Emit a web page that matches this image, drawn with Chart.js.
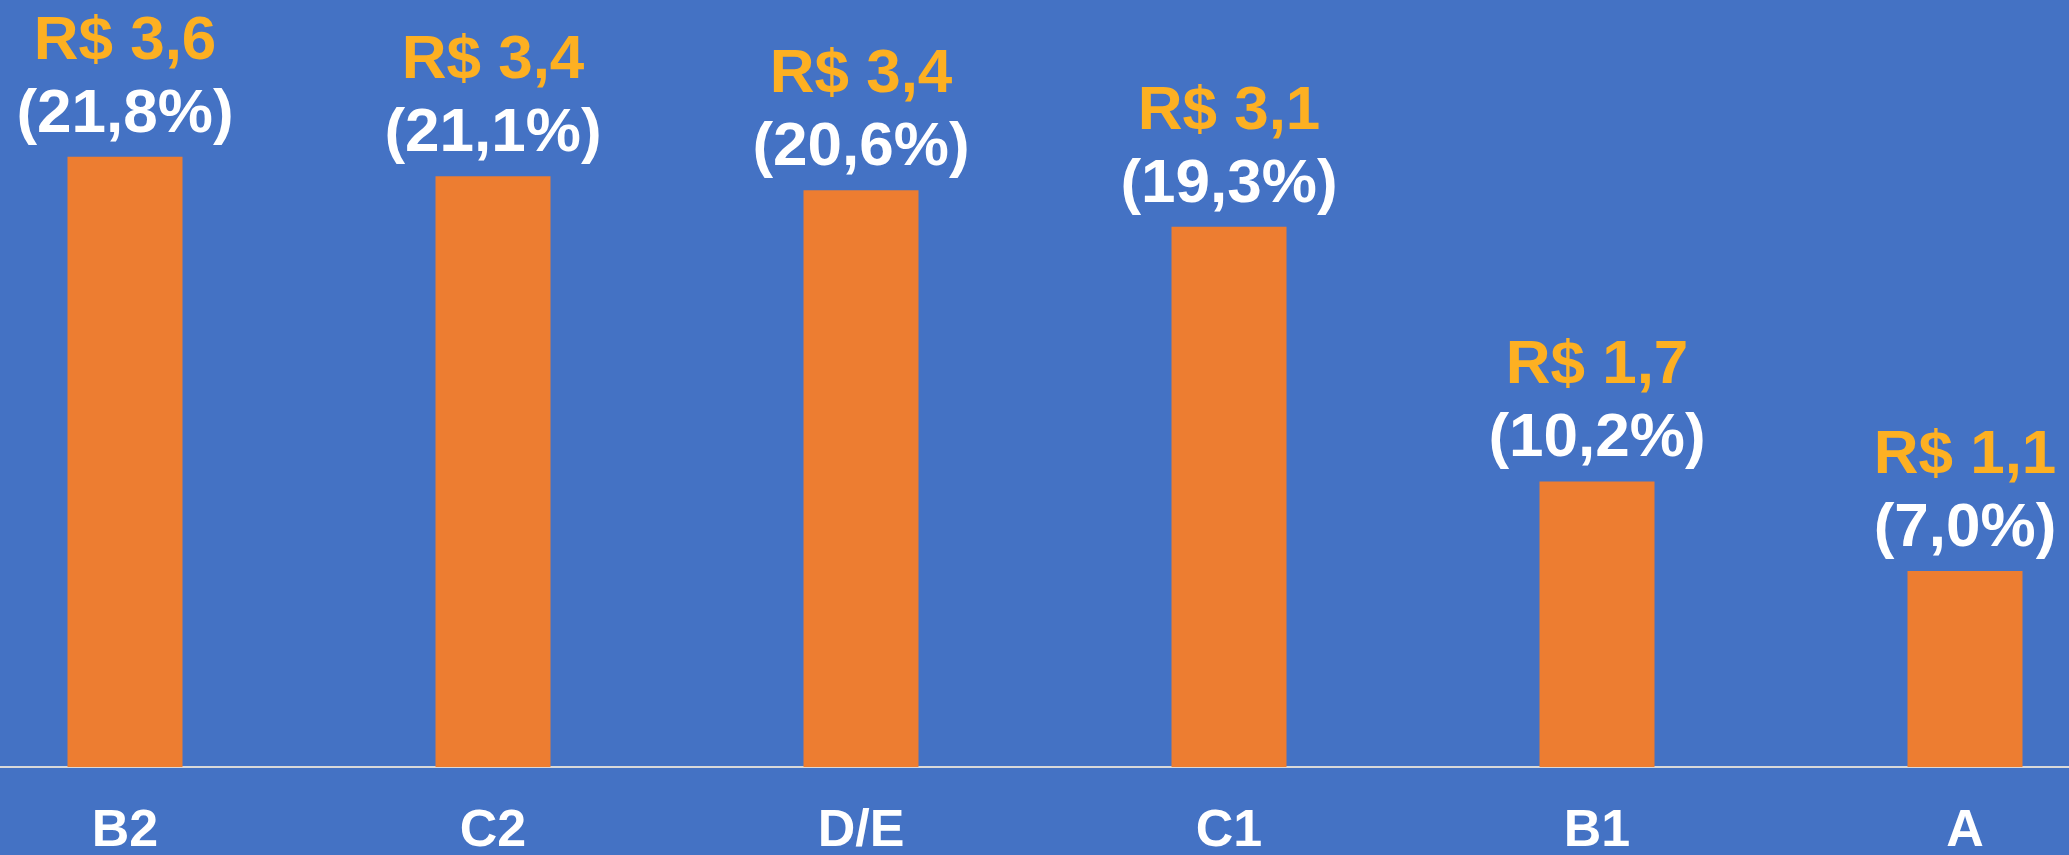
<!DOCTYPE html>
<html>
<head>
<meta charset="utf-8">
<script src="https://cdn.jsdelivr.net/npm/chart.js@4"></script>
<style>
  html, body { margin: 0; padding: 0; background: #4472C4; overflow: hidden; }
  #wrap { position: absolute; left: -59px; top: 0; width: 2208px; height: 855px; }
</style>
</head>
<body>
<div id="wrap"><canvas id="chart"></canvas></div>
<script>
// ==================== DATA ====================
const categorias = ['B2', 'C2', 'D/E', 'C1', 'B1', 'A'];
const valores = [3.6, 3.4, 3.4, 3.1, 1.7, 1.1];          // R$
const percentuais = [21.8, 21.1, 20.6, 19.3, 10.2, 7.0]; // %

const fmt = v => v.toFixed(1).replace('.', ',');

// labels above each bar: "R$ x,x" (gold) and "(xx,x%)" (white)
const barLabels = {
    id: 'barLabels',
    afterDatasetsDraw(chart) {
        const ctx = chart.ctx;
        const meta = chart.getDatasetMeta(0);
        ctx.save();
        ctx.textAlign = 'center';
        ctx.textBaseline = 'alphabetic';
        ctx.font = 'bold 62px "Liberation Sans", Arial, sans-serif';
        meta.data.forEach((bar, i) => {
            const y = bar.y - 25;
            ctx.fillStyle = '#FFFFFF';
            ctx.fillText('(' + fmt(percentuais[i]) + '%)', bar.x, y);
            ctx.fillStyle = '#FDB022';
            ctx.fillText('R$ ' + fmt(valores[i]), bar.x, y - 73);
        });
        ctx.restore();
    }
};

new Chart(document.getElementById('chart'), {
    type: 'bar',
    data: {
        labels: categorias,
        datasets: [{
            data: percentuais,
            backgroundColor: '#ED7D31',
            borderWidth: 0,
            barPercentage: 0.3125,
            categoryPercentage: 1
        }]
    },
    options: {
        responsive: true,
        maintainAspectRatio: false,
        animation: false,
        layout: { padding: 0 },
        plugins: { legend: { display: false }, tooltip: { enabled: false } },
        scales: {
            x: {
                grid: { display: false, drawTicks: false },
                border: { display: true, color: '#D9D9D9', width: 2 },
                ticks: {
                    color: '#FFFFFF',
                    padding: 33,
                    font: { family: '"Liberation Sans", Arial, sans-serif', size: 52, weight: 'bold' }
                },
                afterFit(scale) { scale.height = 88; }
            },
            y: {
                display: false,
                min: 0,
                max: 27.4
            }
        }
    },
    plugins: [barLabels]
});
</script>
</body>
</html>
